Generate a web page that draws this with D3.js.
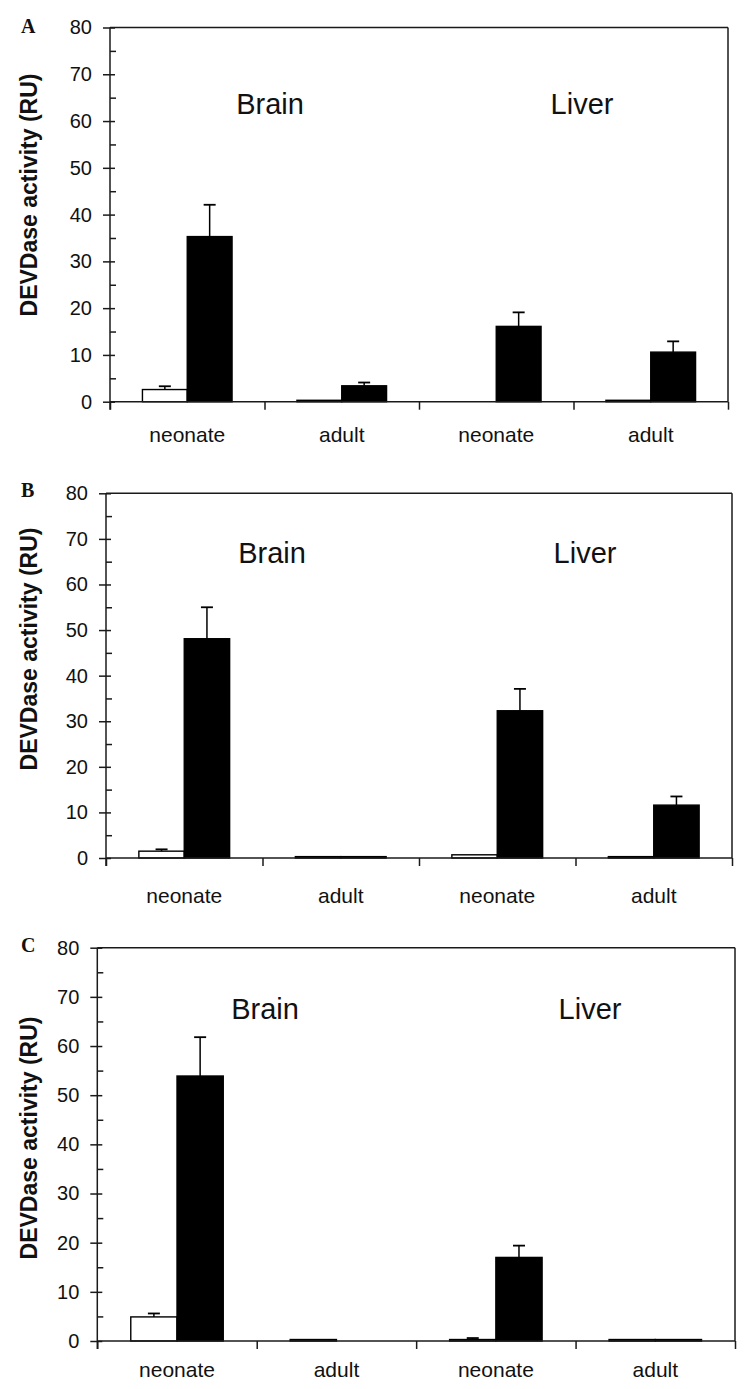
<!DOCTYPE html>
<html>
<head>
<meta charset="utf-8">
<script src="https://cdn.jsdelivr.net/npm/d3@7/dist/d3.min.js"></script>
<style>
  html, body { margin: 0; padding: 0; background: #fff; }
  svg { display: block; }
</style>
</head>
<body>
<script>
// ---------------- DATA ----------------
const panelLetters = ["A", "B", "C"];
const categories = ["neonate", "adult", "neonate", "adult"];
const tissues = ["Brain", "Liver"];
const yTicksMajor = [0, 10, 20, 30, 40, 50, 60, 70, 80];
const yTicksMinor = [5, 15, 25, 35, 45, 55, 65, 75];
const yTitle = "DEVDase activity (RU)";

// white (control) bars
const controlA = [2.6, 0.3, 0, 0.3];
const controlB = [1.5, 0.3, 0.7, 0.3];
const controlC = [4.9, 0.3, 0.3, 0.3];
// white bar error (upper, absolute size; 0 = none)
const controlErrA = [0.7, 0, 0, 0];
const controlErrB = [0.4, 0, 0, 0];
const controlErrC = [0.7, 0, 0.3, 0];

// black (treated) bars
const treatedA = [35.3, 3.4, 16.1, 10.6];
const treatedB = [48.1, 0.3, 32.3, 11.6];
const treatedC = [53.9, 0, 17.0, 0.3];
const treatedErrA = [6.8, 0.7, 3.0, 2.3];
const treatedErrB = [6.9, 0, 4.8, 1.9];
const treatedErrC = [7.9, 0, 2.4, 0];

// ---------------- LAYOUT ----------------
const W = 751, H = 1389;
const layout = [
  { left: 110, right: 728, top: 27.5, bottom: 401.7, letterY: 33.3, tissueY: 114, brainX: 270, liverX: 582, labelDy: 40.6, titleCy: 195 },
  { left: 106, right: 732, top: 493.3, bottom: 858, letterY: 496.7, tissueY: 563, brainX: 272, liverX: 585, labelDy: 44.7, titleCy: 649 },
  { left: 97.3, right: 735, top: 947.7, bottom: 1341, letterY: 952, tissueY: 1019, brainX: 265, liverX: 590, labelDy: 35.7, titleCy: 1138 }
];
const panelData = [
  { c: controlA, ce: controlErrA, t: treatedA, te: treatedErrA },
  { c: controlB, ce: controlErrB, t: treatedB, te: treatedErrB },
  { c: controlC, ce: controlErrC, t: treatedC, te: treatedErrC }
];

const svg = d3.select("body").append("svg").attr("width", W).attr("height", H);
const sans = "'Liberation Sans', Arial, Helvetica, sans-serif";
const axisColor = "#1a1a1a";

panelLetters.forEach((letter, pi) => {
  const L = layout[pi];
  const D = panelData[pi];
  const g = svg.append("g");

  const y = d3.scaleLinear().domain([0, 80]).range([L.bottom, L.top]);
  const xb = d3.scaleLinear().domain([0, categories.length]).range([L.left, L.right]);
  const x = d3.scaleBand().domain(d3.range(categories.length)).range([L.left, L.right]).paddingInner(0).paddingOuter(0);
  const inner = d3.scaleBand().domain(["c", "t"]).range([0, x.bandwidth()]).paddingOuter(0.724).paddingInner(0);

  // frame: top and right
  g.append("line").attr("x1", L.left).attr("x2", L.right).attr("y1", y(80)).attr("y2", y(80))
    .attr("stroke", axisColor).attr("stroke-width", 1.5);
  g.append("line").attr("x1", L.right).attr("x2", L.right).attr("y1", y(80)).attr("y2", y(0))
    .attr("stroke", axisColor).attr("stroke-width", 1.5);

  // y axis major
  const yAx = g.append("g").attr("transform", `translate(${L.left},0)`)
    .call(d3.axisLeft(y).tickValues(yTicksMajor).tickSize(7).tickPadding(11).tickFormat(d3.format("d")));
  yAx.select(".domain").remove();
  yAx.selectAll(".tick line").attr("x1", 5).attr("x2", -7).attr("stroke", axisColor).attr("stroke-width", 1.5);
  yAx.selectAll(".tick text").attr("font-family", sans).attr("font-size", 20).attr("fill", "#111");
  // y axis minor
  const yMin = g.append("g").attr("transform", `translate(${L.left},0)`)
    .call(d3.axisLeft(y).tickValues(yTicksMinor).tickSize(-6).tickFormat(""));
  yMin.select(".domain").remove();
  yMin.selectAll(".tick line").attr("stroke", axisColor).attr("stroke-width", 1.5);
  // y axis spine
  g.append("line").attr("x1", L.left).attr("x2", L.left).attr("y1", y(80)).attr("y2", y(0) + 8)
    .attr("stroke", axisColor).attr("stroke-width", 1.5);

  // bars
  const rows = categories.map((cat, i) => ({ i, c: D.c[i], ce: D.ce[i], t: D.t[i], te: D.te[i] }));
  const barG = g.append("g");
  rows.forEach(r => {
    [["c", r.c, r.ce, "#fff"], ["t", r.t, r.te, "#000"]].forEach(([k, v, e, fill]) => {
      if (v <= 0) return;
      const bx = x(r.i) + inner(k);
      const bw = inner.bandwidth();
      barG.append("rect").attr("x", bx).attr("y", y(v)).attr("width", bw).attr("height", y(0) - y(v))
        .attr("fill", fill).attr("stroke", "#000").attr("stroke-width", 1.4);
      if (e > 0) {
        const cx = bx + bw / 2;
        barG.append("line").attr("x1", cx).attr("x2", cx).attr("y1", y(v)).attr("y2", y(v + e))
          .attr("stroke", "#000").attr("stroke-width", 1.5);
        barG.append("line").attr("x1", cx - 6).attr("x2", cx + 6).attr("y1", y(v + e)).attr("y2", y(v + e))
          .attr("stroke", "#000").attr("stroke-width", 1.8);
      }
    });
  });

  // x axis boundaries
  const xAx = g.append("g").attr("transform", `translate(0,${y(0)})`)
    .call(d3.axisBottom(xb).tickValues(d3.range(categories.length + 1)).tickSize(8).tickFormat(""));
  xAx.select(".domain").attr("stroke", axisColor).attr("stroke-width", 1.5).attr("d", `M${L.left},0H${L.right}`);
  xAx.selectAll(".tick line").attr("stroke", axisColor).attr("stroke-width", 1.5);
  // x category labels
  const xLab = g.append("g").attr("transform", `translate(0,${y(0)})`)
    .call(d3.axisBottom(x).tickSize(0).tickPadding(0).tickFormat(i => categories[i]));
  xLab.select(".domain").remove();
  xLab.selectAll(".tick text").attr("dy", null).attr("y", L.labelDy)
    .attr("font-family", sans).attr("font-size", 21).attr("fill", "#111");

  // tissue labels
  g.append("text").attr("x", L.brainX).attr("y", L.tissueY).attr("text-anchor", "middle")
    .attr("font-family", sans).attr("font-size", 29).attr("fill", "#111").text(tissues[0]);
  g.append("text").attr("x", L.liverX).attr("y", L.tissueY).attr("text-anchor", "middle")
    .attr("font-family", sans).attr("font-size", 29).attr("fill", "#111").text(tissues[1]);

  // y title
  g.append("text").attr("transform", `translate(37,${L.titleCy}) rotate(-90)`).attr("text-anchor", "middle")
    .attr("font-family", sans).attr("font-size", 23).attr("font-weight", "bold").attr("fill", "#111").text(yTitle);

  // panel letter
  g.append("text").attr("x", 21).attr("y", L.letterY)
    .attr("font-family", "'Liberation Serif', 'Times New Roman', serif").attr("font-size", 20)
    .attr("font-weight", "bold").attr("fill", "#111").text(letter);
});
</script>
</body>
</html>
